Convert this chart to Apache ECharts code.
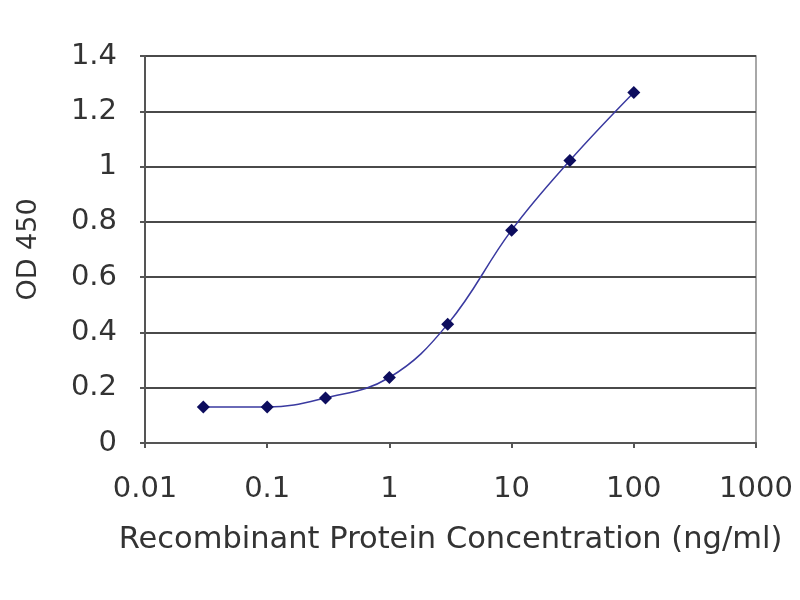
<!DOCTYPE html>
<html><head><meta charset="utf-8">
<script src="https://cdn.jsdelivr.net/npm/echarts@6/dist/echarts.min.js"></script>
<style>html,body{margin:0;padding:0;background:#fff}#c{width:800px;height:600px}</style>
</head><body><div id="c"></div>
<script>
const concentrations = [0.03, 0.1, 0.3, 1, 3, 10, 30, 100];
const od450 = [0.13, 0.13, 0.163, 0.237, 0.43, 0.77, 1.022, 1.268];
const xTicks = [0.01, 0.1, 1, 10, 100, 1000];
const yTicks = [0, 0.2, 0.4, 0.6, 0.8, 1, 1.2, 1.4];
const xTitle = 'Recombinant Protein Concentration (ng/ml)';
const yTitle = 'OD 450';

const chart = echarts.init(document.getElementById('c'));
const font = 'DejaVu Sans, sans-serif';
const txt = {fontFamily: font, fontSize: 29, fontWeight: 'normal', color: '#333'};
chart.setOption({
  animation: false,
  grid: {left: 145, right: 44, top: 56, bottom: 157, show: true, borderColor: '#8c8c8c', borderWidth: 1.5, backgroundColor: '#fff'},
  xAxis: {
    type: 'log', logBase: 10, min: xTicks[0], max: xTicks[xTicks.length-1],
    name: xTitle, nameLocation: 'middle', nameGap: 82,
    nameTextStyle: Object.assign({}, txt, {fontSize: 30.5}),
    axisLine: {show: true, lineStyle: {color: '#555', width: 2}},
    axisTick: {show: true, length: 5, lineStyle: {color: '#555', width: 2}},
    splitLine: {show: false},
    axisLabel: Object.assign({margin: 32, formatter: v => String(+Number(v).toPrecision(3))}, txt)
  },
  yAxis: {
    type: 'value', min: yTicks[0], max: yTicks[yTicks.length-1], interval: 0.2,
    name: yTitle, nameLocation: 'middle', nameGap: 103, nameRotate: 90,
    nameTextStyle: Object.assign({}, txt, {fontSize: 27}),
    axisLine: {show: true, lineStyle: {color: '#555', width: 2}},
    axisTick: {show: true, length: 5, lineStyle: {color: '#555', width: 2}},
    splitLine: {show: true, lineStyle: {color: '#4a4a4a', width: 2}},
    axisLabel: Object.assign({margin: 28, formatter: v => String(+Number(v).toFixed(1))}, txt)
  },
  series: [{
    type: 'line', smooth: 0.4,
    data: concentrations.map((c, i) => [c, od450[i]]),
    symbol: 'diamond', symbolSize: 13,
    itemStyle: {color: '#0d0d5e'},
    lineStyle: {color: '#3a3aa0', width: 1.5}
  }]
});
</script></body></html>
